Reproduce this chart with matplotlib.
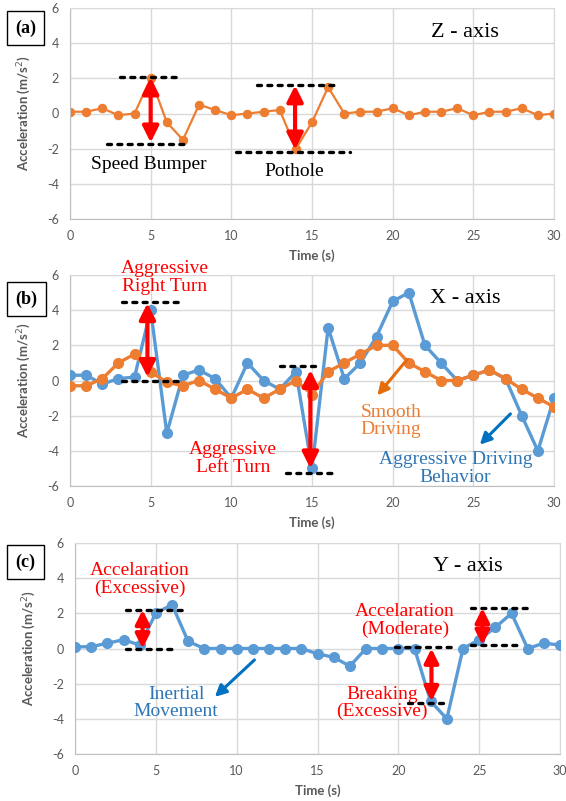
import numpy as np
import matplotlib
matplotlib.use('Agg')
import matplotlib.pyplot as plt

plt.rcParams['axes.unicode_minus'] = False

# Data
t = np.arange(0, 31)

z_axis = [0.1, 0.1, 0.3, -0.1, 0.0, 2.0, -0.5, -1.5, 0.5, 0.2, -0.1,
          0.0, 0.1, 0.2, -2.0, -0.5, 1.5, 0.0, 0.1, 0.1, 0.3,
          -0.1, 0.1, 0.1, 0.3, -0.1, 0.1, 0.1, 0.3, -0.1, 0.0]

x_aggressive = [0.3, 0.3, -0.2, 0.1, 0.2, 4.0, -3.0, 0.3, 0.6, 0.1, -1.0,
                1.0, 0.0, -0.5, 0.5, -5.0, 3.0, 0.1, 1.0, 2.5, 4.5,
                5.0, 2.0, 1.0, 0.0, 0.3, 0.6, 0.1, -2.0, -4.0, -1.0]

x_smooth = [-0.3, -0.3, 0.1, 1.0, 1.5, 0.5, -0.1, -0.3, 0.0, -0.5, -1.0,
            -0.5, -1.0, -0.5, 0.0, -0.8, 0.5, 1.0, 1.5, 2.0, 2.0,
            1.0, 0.5, 0.0, 0.0, 0.3, 0.6, 0.1, -0.5, -1.0, -1.5]

y_axis = [0.1, 0.1, 0.3, 0.5, 0.2, 2.0, 2.5, 0.4, 0.0, 0.0, 0.0,
          0.0, 0.0, 0.0, 0.0, -0.3, -0.5, -1.0, 0.0, 0.0, 0.0,
          0.0, -3.0, -4.0, 0.0, 0.5, 1.2, 2.0, 0.0, 0.3, 0.2]

ORANGE = '#ED7D31'
BLUE = '#5B9BD5'
DARKBLUE = '#2E75B6'
GRAY = '#595959'
SERIF = 'Liberation Serif'
SANS = 'Lato'
FS = 14      # annotation text size
AXFS = 16    # "Z - axis" etc.

W, H = 566, 801
fig = plt.figure(figsize=(W / 100, H / 100), dpi=100)


def make_axes(left, top, right, bottom):
    ax = fig.add_axes([left / W, 1 - bottom / H, (right - left) / W, (bottom - top) / H])
    ax.set_xlim(0, 30)
    ax.set_ylim(-6, 6)
    ax.set_xticks(range(0, 31, 5))
    ax.set_yticks(range(-6, 7, 2))
    ax.grid(True, color='#D9D9D9', lw=1)
    ax.set_axisbelow(True)
    for s in ax.spines.values():
        s.set_color('#D9D9D9')
    ax.spines['left'].set_color('#BFBFBF')
    ax.spines['bottom'].set_color('#BFBFBF')
    ax.tick_params(length=0, labelsize=9, labelcolor=GRAY, pad=8)
    for lab in ax.get_xticklabels() + ax.get_yticklabels():
        lab.set_family(SANS)
    ax.set_xlabel('Time (s)', fontsize=9.5, fontweight='bold', color=GRAY, family=SANS, labelpad=5)
    ax.set_ylabel('Acceleration (m/s$^2$)', fontsize=9.5, fontweight='bold', color=GRAY, family=SANS, labelpad=10)
    return ax


def dash(ax, x0, x1, y):
    ax.plot([x0, x1], [y, y], color='black', lw=2.4, dashes=(1.2, 1.9),
            dash_capstyle='round', zorder=4)


def red_arrow(ax, x, y0, y1, ms=24):
    ax.annotate('', xy=(x, y1), xytext=(x, y0),
                arrowprops=dict(arrowstyle='<|-|>', color='red', lw=3,
                                mutation_scale=ms, shrinkA=0, shrinkB=0), zorder=5)


def arrow(ax, start, end, color):
    ax.annotate('', xy=end, xytext=start,
                arrowprops=dict(arrowstyle='-|>', color=color, lw=2.2,
                                mutation_scale=17, shrinkA=0, shrinkB=0), zorder=5)


def label(ax, x, y, s, color='black', size=FS):
    ax.text(x, y, s, family=SERIF, fontsize=size, color=color,
            ha='center', va='center', linespacing=1.05)


def panel_tag(s, x, y):
    fig.text(x / W, 1 - y / H, s, fontsize=13, fontweight='bold', family=SERIF,
             ha='center', va='center',
             bbox=dict(boxstyle='square,pad=0.45', fc='white', ec='black', lw=1))


# (a) Z-axis
ax1 = make_axes(70, 8, 554, 219)
ax1.plot(t, z_axis, color=ORANGE, lw=1.6, marker='o', ms=5.8)
dash(ax1, 3.1, 6.8, 2.1)
dash(ax1, 2.3, 7.3, -1.75)
dash(ax1, 11.6, 16.7, 1.62)
dash(ax1, 10.3, 17.35, -2.2)
red_arrow(ax1, 5.0, -1.65, 2.05)
red_arrow(ax1, 13.95, -2.05, 1.6)
label(ax1, 4.9, -2.9, 'Speed Bumper')
label(ax1, 13.9, -3.3, 'Pothole')
label(ax1, 24.5, 4.6, 'Z - axis', size=AXFS)
panel_tag('(a)', 25.5, 28)

# (b) X-axis
ax2 = make_axes(70, 275, 554, 486)
ax2.plot(t, x_aggressive, color=BLUE, lw=2.4, marker='o', ms=7, zorder=3)
ax2.plot(t, x_smooth, color=ORANGE, lw=2.4, marker='o', ms=7, zorder=3)
dash(ax2, 3.2, 6.8, 4.47)
dash(ax2, 3.2, 6.8, 0.0)
dash(ax2, 13.0, 15.4, 0.8)
dash(ax2, 13.4, 16.5, -5.25)
red_arrow(ax2, 4.8, 0.2, 4.4)
red_arrow(ax2, 14.9, 0.6, -5.0)
label(ax2, 5.86, 5.85, 'Aggressive\nRight Turn', 'red')
label(ax2, 10.1, -4.42, 'Aggressive\nLeft Turn', 'red')
label(ax2, 24.5, 4.65, 'X - axis', size=AXFS)
label(ax2, 19.9, -2.3, 'Smooth\nDriving', ORANGE)
label(ax2, 23.9, -5.0, 'Aggressive Driving\nBehavior', DARKBLUE)
arrow(ax2, (20.9, 1.2), (19.05, -0.85), '#E46C0A')
arrow(ax2, (27.3, -1.9), (25.4, -3.65), '#0070C0')
panel_tag('(b)', 26.5, 299)

# (c) Y-axis
ax3 = make_axes(75, 543, 560, 754)
ax3.plot(t, y_axis, color=BLUE, lw=2.4, marker='o', ms=7, zorder=3)
dash(ax3, 3.17, 6.98, 2.18)
dash(ax3, 3.17, 6.04, -0.05)
dash(ax3, 24.5, 28.3, 2.33)
dash(ax3, 24.5, 27.55, 0.2)
dash(ax3, 19.8, 23.6, 0.1)
dash(ax3, 20.6, 23.1, -3.1)
red_arrow(ax3, 4.18, 0.0, 2.2, ms=21)
red_arrow(ax3, 25.2, 0.2, 2.3, ms=21)
red_arrow(ax3, 22.05, 0.0, -3.0, ms=21)
label(ax3, 4.02, 3.9, 'Accelaration\n(Excessive)', 'red')
label(ax3, 20.4, 1.6, 'Accelaration\n(Moderate)', 'red')
label(ax3, 19.0, -3.1, 'Breaking\n(Excessive)', 'red')
label(ax3, 6.26, -3.1, 'Inertial\nMovement', DARKBLUE)
label(ax3, 24.3, 4.64, 'Y - axis', size=AXFS)
arrow(ax3, (11.1, -0.65), (8.65, -2.75), '#0070C0')
panel_tag('(c)', 25.5, 562)

fig.savefig('out.png', dpi=100)
